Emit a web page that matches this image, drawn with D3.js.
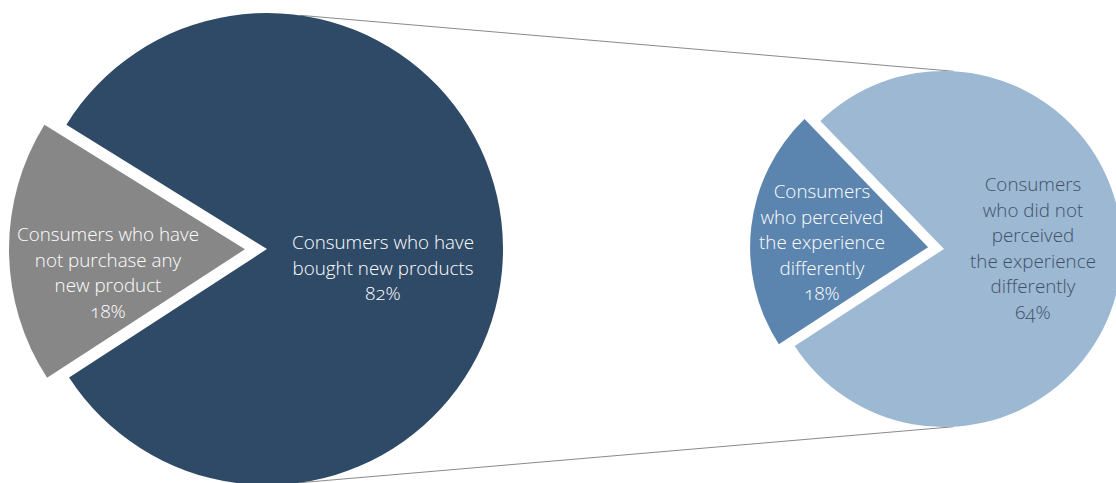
<!DOCTYPE html>
<html>
<head>
<meta charset="utf-8">
<script src="https://cdn.jsdelivr.net/npm/d3@7"></script>
<style>
  html, body { margin: 0; padding: 0; background: #fff; }
  svg { display: block; }
  text { font-family: "Open Sans", "Lato", sans-serif; font-weight: 300; font-size: 18.8px; font-feature-settings: "onum" 1; }
</style>
</head>
<body>
<svg id="chart" width="1116" height="483"></svg>
<script>
// Purchase behaviour of all consumers
const purchaseCategories = ["not purchased", "bought new"];
const purchaseValues = [18, 82];
const purchaseLabels = [
  ["Consumers who have", "not purchase any", "new product", "18%"],
  ["Consumers who have", "bought new products", "82%"]
];

// Breakdown of those who bought new products
const perceptionCategories = ["perceived differently", "did not perceive differently"];
const perceptionValues = [18, 64];
const perceptionLabels = [
  ["Consumers", "who perceived", "the experience", "differently", "18%"],
  ["Consumers", "who did not", "perceived", "the experience", "differently", "64%"]
];

const svg = d3.select("#chart");
const deg = Math.PI / 180;
const start = 237 * deg;

const pies = [
  {
    cx: 267, cy: 249, r: 236, explode: 22,
    categories: purchaseCategories, values: purchaseValues, labels: purchaseLabels,
    colors: ["#878787", "#2e4a67"],
    textColors: ["#ffffff", "#ffffff"],
    labelPos: [[108, 241], [383, 249]]
  },
  {
    cx: 944, cy: 249, r: 178, explode: 16,
    categories: perceptionCategories, values: perceptionValues, labels: perceptionLabels,
    colors: ["#5b84ae", "#9db8d3"],
    textColors: ["#ffffff", "#3f5168"],
    labelPos: [[822, 198], [1033, 191]]
  }
];

const pieGen = d3.pie().sort(null).startAngle(start).endAngle(start + 2 * Math.PI);
const lineHeight = 25.6;

// Connector lines linking the "bought new products" slice to its breakdown
const pt = (p, a) => [p.cx + p.r * Math.sin(a * deg), p.cy - p.r * Math.cos(a * deg)];
const connectors = [
  [pt(pies[0], 8), pt(pies[1], 3)],
  [pt(pies[0], 172), pt(pies[1], 177)]
];
svg.append("g").selectAll("line").data(connectors).join("line")
  .attr("x1", d => d[0][0]).attr("y1", d => d[0][1])
  .attr("x2", d => d[1][0]).attr("y2", d => d[1][1])
  .attr("stroke", "#8a8a8a").attr("stroke-width", 1);

pies.forEach(p => {
  const arcs = pieGen(p.values);
  const arc = d3.arc().innerRadius(0).outerRadius(p.r);
  const g = svg.append("g").attr("transform", `translate(${p.cx},${p.cy})`);
  g.selectAll("path").data(arcs).join("path")
    .attr("d", arc)
    .attr("fill", (d, i) => p.colors[i])
    .attr("transform", (d, i) => {
      if (i !== 0) return null;
      const mid = (d.startAngle + d.endAngle) / 2;
      return `translate(${p.explode * Math.sin(mid)},${-p.explode * Math.cos(mid)})`;
    });

  p.labels.forEach((lines, i) => {
    const [x, y] = p.labelPos[i];
    const t = svg.append("text")
      .attr("text-anchor", "middle")
      .attr("fill", p.textColors[i]);
    lines.forEach((s, k) => {
      t.append("tspan").attr("x", x).attr("y", y + k * lineHeight).text(s);
    });
  });
});
</script>
</body>
</html>
